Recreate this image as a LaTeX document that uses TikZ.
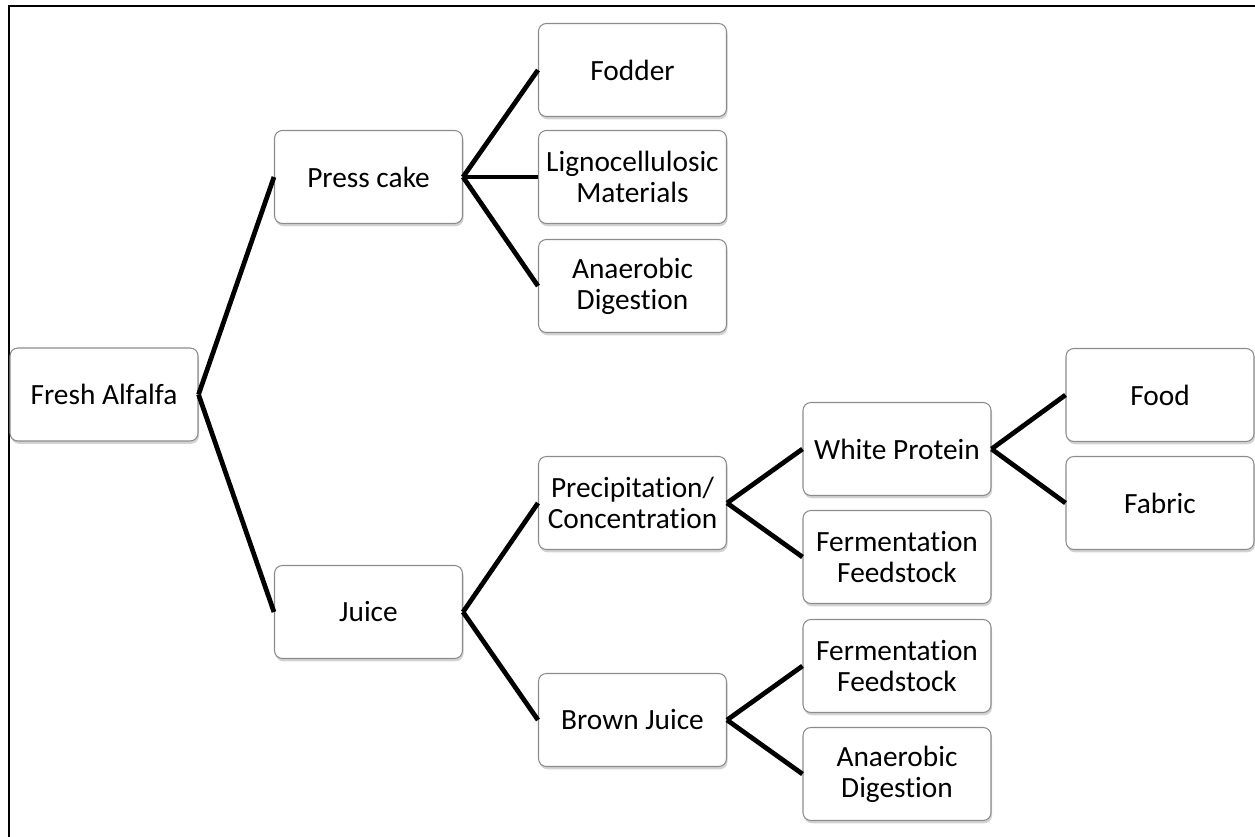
\documentclass[tikz,border=0pt]{standalone}
\usepackage{fontspec}
\setmainfont[Ligatures=NoCommon]{Carlito}
\usetikzlibrary{shadows}

\begin{document}
\begin{tikzpicture}[box/.style={draw=gray!90,line width=0.6pt,rounded corners=4.5pt,fill=white,minimum width=3.76cm,minimum height=1.86cm,inner sep=0pt,align=center,font=\fontsize{16.7}{17.6}\selectfont,drop shadow={shadow xshift=0.6pt,shadow yshift=-1.6pt,opacity=0.35}},
                    link/.style={line width=2.7pt}]
                \useasboundingbox (0,0) rectangle (25.1,-16.74);
                \draw[line width=1.2pt] (0.18,-16.9) -- (0.18,-0.12) -- (25.3,-0.12);
                \node[box] (alfalfa) at (2.08,-7.89) {Fresh Alfalfa};
                \node[box] (press) at (7.37,-3.54) {Press cake};
                \node[box] (juice) at (7.37,-12.24) {Juice};
                \node[box] (fodder) at (12.65,-1.40) {Fodder};
                \node[box] (ligno) at (12.65,-3.54) {Lignocellulosic\\Materials};
                \node[box] (anaerA) at (12.65,-5.72) {Anaerobic\\Digestion};
                \node[box] (precip) at (12.65,-10.06) {Precipitation/\\Concentration};
                \node[box] (brown) at (12.65,-14.40) {Brown Juice};
                \node[box] (white) at (17.94,-8.98) {White Protein};
                \node[box] (fermA) at (17.94,-11.14) {Fermentation\\Feedstock};
                \node[box] (fermB) at (17.94,-13.32) {Fermentation\\Feedstock};
                \node[box] (anaerB) at (17.94,-15.48) {Anaerobic\\Digestion};
                \node[box] (food) at (23.2,-7.90) {Food};
                \node[box] (fabric) at (23.2,-10.06) {Fabric};
                \draw[link] (alfalfa.east)--(press.west);
                \draw[link] (alfalfa.east)--(juice.west);
                \draw[link] (press.east)--(fodder.west);
                \draw[link] (press.east)--(ligno.west);
                \draw[link] (press.east)--(anaerA.west);
                \draw[link] (juice.east)--(precip.west);
                \draw[link] (juice.east)--(brown.west);
                \draw[link] (precip.east)--(white.west);
                \draw[link] (precip.east)--(fermA.west);
                \draw[link] (brown.east)--(fermB.west);
                \draw[link] (brown.east)--(anaerB.west);
                \draw[link] (white.east)--(food.west);
                \draw[link] (white.east)--(fabric.west);
            \end{tikzpicture}
\end{document}
